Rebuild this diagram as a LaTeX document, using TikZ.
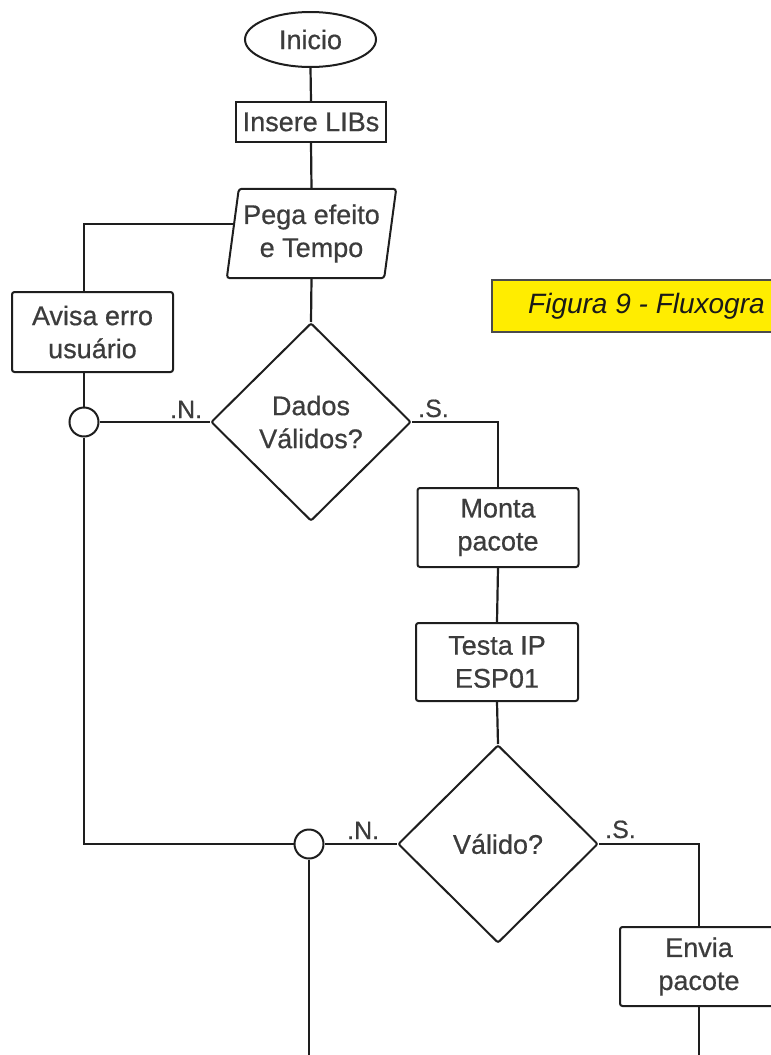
\documentclass[tikz,border=0pt]{standalone}
\usepackage{fontspec}
\setmainfont{Liberation Sans}
\newfontfamily\diafont{Liberation Sans}[FakeBold=0.6]
\usetikzlibrary{shapes.geometric}
\definecolor{figyellow}{RGB}{255,237,0}
\definecolor{ink}{RGB}{30,30,30}
\definecolor{txtc}{RGB}{60,60,60}
\begin{document}
\begin{tikzpicture}[x=1pt,y=-1pt,
  txt/.style={font=\diafont\fontsize{27}{33}\selectfont, text=txtc, align=center},
  proc/.style={txt, draw=ink, line width=2pt, rounded corners=2.5pt, fill=white, inner sep=0pt},
  dec/.style={txt, diamond, draw=ink, line width=2pt, aspect=1, inner sep=0pt, minimum width=200pt, minimum height=198pt, rounded corners=2pt},
  junc/.style={circle, draw=ink, line width=2pt, fill=white, minimum size=29pt, inner sep=0pt},
  lbl/.style={font=\diafont\fontsize{25}{25}\selectfont, text=txtc, inner sep=0pt},
  conn/.style={draw=ink, line width=2.2pt}
]
\useasboundingbox (0,0) rectangle (771,1055);

% caption box
\node[draw=ink!80, line width=1.8pt, fill=figyellow, minimum width=320pt, minimum height=52pt, anchor=north west, inner sep=0pt] (fig) at (491,279) {};
\node[font=\fontsize{28}{28}\selectfont\itshape, text=black!90, anchor=base west, inner sep=0pt] (figt) at (528,313) {Figura 9 - Fluxogra};

% nodes
\node[txt, ellipse, draw=ink, line width=2pt, minimum width=131pt, minimum height=55pt, inner sep=0pt] (inicio) at (310.5,39.5) {Inicio};
\node[proc, rounded corners=0pt, minimum width=150pt, minimum height=40pt] (insere) at (311,122) {Insere LIBs};
\node[txt, minimum width=157pt, minimum height=89pt, inner sep=0pt] (pega) at (311.5,233.5) {Pega efeito\\e Tempo};
\draw[conn, line width=2pt, rounded corners=3pt] ([xshift=6pt]pega.north west) -- ([xshift=6pt]pega.north east) -- ([xshift=-6pt]pega.south east) -- ([xshift=-6pt]pega.south west) -- cycle;
\coordinate (pegaL) at ([shift={(1.3,-9.5)}]pega.west);

\node[proc, minimum width=161pt, minimum height=80pt] (avisa) at (92.5,332) {Avisa erro\\usuário};
\node[junc] (j1) at (84,422) {};
\node[dec] (dados) at (311,422) {Dados\\Válidos?};
\node[proc, minimum width=161pt, minimum height=79pt] (monta) at (498,527.5) {Monta\\pacote};
\node[proc, minimum width=162pt, minimum height=78pt] (testa) at (497,662) {Testa IP\\ESP01};
\node[dec] (valido) at (498,844) {Válido?};
\node[junc] (j2) at (309,844) {};
\node[proc, minimum width=158pt, minimum height=79pt] (envia) at (699,966.5) {Envia\\pacote};
\coordinate (end1) at (309,1060);
\coordinate (end2) at (699,1060);

% labels
\node[lbl, anchor=base west] (n1) at (170,418) {.N.};
\node[lbl, anchor=base west] (s1) at (418,417) {.S.};
\node[lbl, anchor=base west] (n2) at (347,839) {.N.};
\node[lbl, anchor=base west] (s2) at (605,838) {.S.};

% connectors
\draw[conn] (inicio.south) -- (insere.north);
\draw[conn] (insere.south) -- (pega.north);
\draw[conn] (pega.south) -- (dados.north);
\draw[conn] (pegaL) -| (j1 |- avisa.north);
\draw[conn] (j1 |- avisa.south) -- (j1.north);
\draw[conn] (j1.east) -- (dados.west);
\draw[conn] (j1.south) |- (j2.west);
\draw[conn] (dados.east) -| (monta.north);
\draw[conn] (monta.south) -- (testa.north);
\draw[conn] (testa.south) -- (valido.north);
\draw[conn] (j2.east) -- (valido.west);
\draw[conn] (valido.east) -| (envia.north);
\draw[conn] (envia.south) -- (end2);
\draw[conn] (j2.south) -- (end1);
\end{tikzpicture}
\end{document}
